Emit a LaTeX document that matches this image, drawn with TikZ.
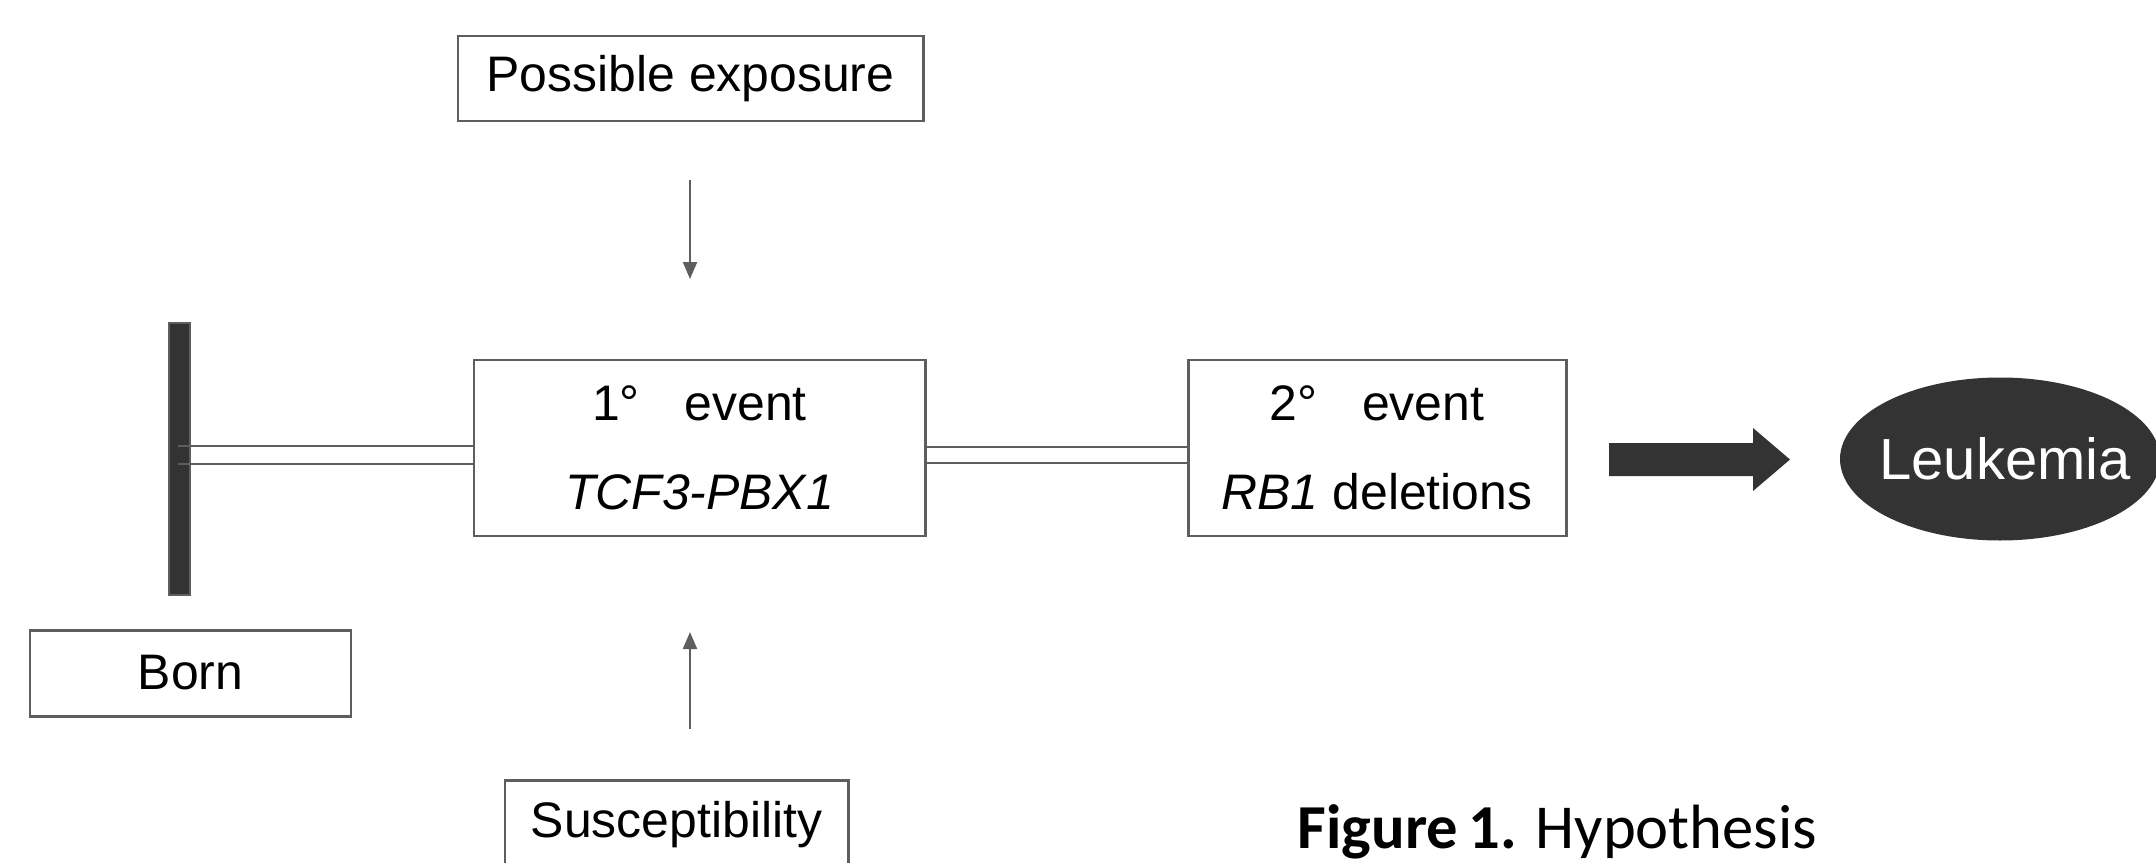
\documentclass[tikz,border=0pt]{standalone}
\usepackage{fontspec}
\setmainfont{Liberation Sans}
\newfontfamily\capfont{Carlito}
\usetikzlibrary{arrows.meta,shapes.geometric}
\definecolor{edge}{HTML}{5E5E5E}
\definecolor{ink}{HTML}{333333}

\begin{document}
\begin{tikzpicture}[
  box/.style={draw=edge, line width=0.85pt, inner sep=0, align=center, font=\fontsize{14.2}{25.3}\selectfont},
  pointer/.style={draw=edge, line width=0.6pt, -{Triangle[length=0.17cm,width=0.14cm]}},
  rail/.style={draw=edge, line width=0.6pt}
]
% Fix the page size (1cm = 100px of the reference)
\useasboundingbox (0,0) rectangle (21.56,-8.63);

% The boxes
\node[box, minimum width=4.65cm, minimum height=0.85cm] (expo) at (6.905,-0.785) {Possible exposure};
\node[box, minimum width=4.51cm, minimum height=1.76cm] (ev1) at (6.995,-4.48) {1°\hspace{0.9em}event\\\textit{TCF3-PBX1}};
\node[box, minimum width=3.78cm, minimum height=1.76cm] (ev2) at (13.77,-4.48) {2°\hspace{0.9em}event\\\textit{RB1} deletions};
\node[box, minimum width=3.21cm, minimum height=0.86cm] (born) at (1.905,-6.73) {Born};
\node[box, minimum width=3.43cm, minimum height=0.90cm] (susc) at (6.765,-8.25) {Susceptibility};
\node[ellipse, fill=ink, inner sep=0, minimum width=3.2cm, minimum height=1.63cm,
      label={[text=white, font=\fontsize{16.5}{18}\selectfont, xshift=0.05cm]center:Leukemia}] (leuk) at (20.00,-4.59) {};

% The bar at birth
\node[draw=edge, fill=ink, line width=0.6pt, inner sep=0, minimum width=0.21cm, minimum height=2.72cm] (bar) at (1.795,-4.59) {};

% Double lines along the time line
\foreach \y in {-4.46,-4.64}
  \draw[rail] ([xshift=-0.02cm]bar.center |- 0,\y) -- (ev1.west |- 0,\y);
\foreach \y in {-4.47,-4.63}
  \draw[rail] (ev1.east |- 0,\y) -- (ev2.west |- 0,\y);

% Small arrows
\coordinate (dn1) at (6.90,-1.80);
\coordinate (dn2) at (6.90,-2.79);
\coordinate (up1) at (6.90,-7.29);
\coordinate (up2) at (6.90,-6.32);
\draw[pointer] (dn1) -- (dn2);
\draw[pointer] (up1) -- (up2);

% Block arrow towards Leukemia
\fill[ink] (16.09,-4.43) -- (17.53,-4.43) -- (17.53,-4.28) -- (17.90,-4.595)
  -- (17.53,-4.91) -- (17.53,-4.76) -- (16.09,-4.76) -- cycle;

% Caption
\node[anchor=base west, inner sep=0, font=\capfont\fontsize{17.8}{20}\selectfont] (cap) at (12.97,-8.48) {\textbf{Figure\,1.} Hypothesis};
\end{tikzpicture}
\end{document}
